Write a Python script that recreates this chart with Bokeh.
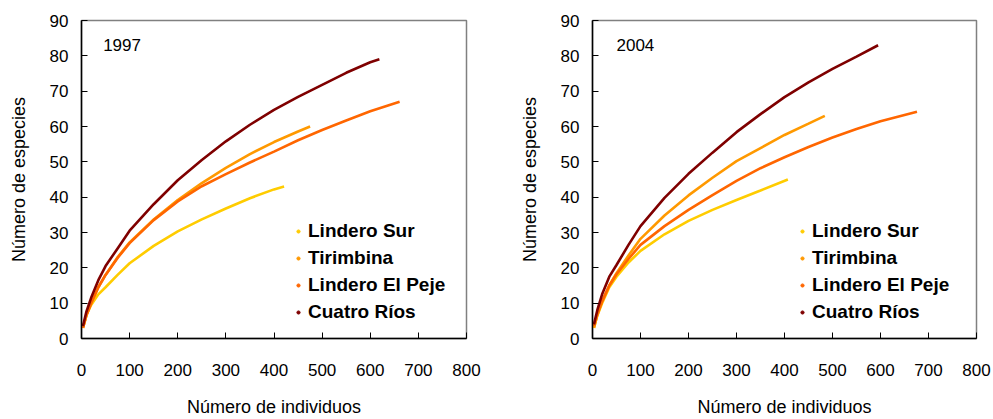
from bokeh.plotting import figure
from bokeh.models import Range1d, FixedTicker, Legend, LegendItem, Label
from bokeh.layouts import row
from bokeh.embed import file_html
from bokeh.resources import INLINE

SERIES = ["Lindero Sur", "Tirimbina", "Lindero El Peje", "Cuatro Ríos"]
COLORS = ["#FFCC00", "#FF9900", "#FF6600", "#7F0000"]
X_TICKS = [0, 100, 200, 300, 400, 500, 600, 700, 800]
Y_TICKS = [0, 10, 20, 30, 40, 50, 60, 70, 80, 90]

# ---- 1997 ----
x_sur_97 = [3, 10, 20, 35, 50, 75, 100, 150, 200, 250, 300, 350, 400, 421]
y_sur_97 = [3, 6.5, 9.5, 12.5, 14.5, 18, 21.3, 26.2, 30.3, 33.7, 36.8, 39.7, 42.2, 43]
x_tir_97 = [3, 10, 20, 35, 50, 75, 100, 150, 200, 250, 300, 350, 400, 450, 475]
y_tir_97 = [3, 6.5, 10, 14.5, 18, 23, 27.2, 33.7, 39.2, 44, 48.3, 52.2, 55.6, 58.6, 60]
x_pej_97 = [3, 10, 20, 35, 50, 75, 100, 150, 200, 250, 300, 350, 400, 450, 500, 550, 600, 661]
y_pej_97 = [3, 6.5, 10, 14.5, 18, 22.8, 27, 33.5, 38.8, 43.1, 46.5, 49.8, 52.9, 56.1, 59.0, 61.7, 64.3, 67]
x_cua_97 = [3, 10, 20, 35, 50, 75, 100, 150, 200, 250, 300, 350, 400, 450, 500, 550, 600, 619]
y_cua_97 = [3.5, 7.5, 11.5, 16.5, 20.5, 25.5, 30.5, 38, 44.8, 50.5, 55.8, 60.5, 64.7, 68.4, 71.8, 75.2, 78.2, 79]

# ---- 2004 ----
x_sur_04 = [3, 10, 20, 35, 50, 75, 100, 150, 200, 250, 300, 350, 407]
y_sur_04 = [3, 6.5, 10, 14.5, 17.5, 21.5, 24.8, 29.5, 33.3, 36.4, 39.2, 41.9, 45]
x_tir_04 = [3, 10, 20, 35, 50, 75, 100, 150, 200, 250, 300, 350, 400, 450, 484]
y_tir_04 = [3, 6.5, 10.5, 15, 18.5, 23.5, 28.2, 34.8, 40.5, 45.5, 50.2, 53.9, 57.6, 60.8, 63]
x_pej_04 = [3, 10, 20, 35, 50, 75, 100, 150, 200, 250, 300, 350, 400, 450, 500, 550, 600, 676]
y_pej_04 = [3.5, 7, 10.5, 15, 18.2, 22.5, 26.5, 31.8, 36.4, 40.6, 44.6, 48.2, 51.3, 54.2, 56.9, 59.3, 61.5, 64.2]
x_cua_04 = [3, 10, 20, 35, 50, 75, 100, 150, 200, 250, 300, 350, 400, 450, 500, 550, 595]
y_cua_04 = [4, 8, 12.5, 17.5, 20.8, 26.5, 31.8, 39.8, 46.6, 52.6, 58.4, 63.5, 68.3, 72.5, 76.3, 79.8, 83]

PANELS = [
    ("1997", [(x_sur_97, y_sur_97), (x_tir_97, y_tir_97), (x_pej_97, y_pej_97), (x_cua_97, y_cua_97)]),
    ("2004", [(x_sur_04, y_sur_04), (x_tir_04, y_tir_04), (x_pej_04, y_pej_04), (x_cua_04, y_cua_04)]),
]

FONT = "Liberation Sans"
NAN = float("nan")


def make_panel(year, series, width, left, right, year_x, leg_x):
    p = figure(width=width, height=419, output_backend="svg", toolbar_location=None,
               x_range=Range1d(0, 800), y_range=Range1d(0, 90),
               min_border_left=left, min_border_right=right,
               min_border_top=20, min_border_bottom=79)
    p.grid.visible = False
    p.outline_line_color = "#808080"
    p.outline_line_width = 1.5
    p.background_fill_color = "white"
    p.border_fill_color = "white"

    p.xaxis.ticker = FixedTicker(ticks=X_TICKS)
    p.yaxis.ticker = FixedTicker(ticks=Y_TICKS)
    for ax in (p.xaxis[0], p.yaxis[0]):
        ax.axis_line_color = "black"
        ax.axis_line_width = 1.5
        ax.major_tick_in = 6
        ax.major_tick_out = 0
        ax.major_tick_line_color = "black"
        ax.major_tick_line_width = 1
        ax.minor_tick_line_color = None
        ax.major_label_text_font = FONT
        ax.major_label_text_font_size = "17px"
        ax.major_label_text_color = "black"
        ax.axis_label_text_font = FONT
        ax.axis_label_text_font_size = "18px"
        ax.axis_label_text_font_style = "normal"
        ax.axis_label_text_color = "black"
    p.xaxis.axis_label = "Número de individuos"
    p.yaxis.axis_label = "Número de especies"
    p.xaxis.major_label_standoff = 25
    p.xaxis.axis_label_standoff = 18
    p.yaxis.major_label_standoff = 13
    p.yaxis.axis_label_standoff = 18

    for (xs, ys), col in zip(series, COLORS):
        p.line(xs, ys, line_color=col, line_width=2.6)

    items = []
    for name, col in zip(SERIES, COLORS):
        r = p.scatter(x=[NAN], y=[NAN], size=4.5, fill_color=col, line_color=col, marker="circle")
        items.append(LegendItem(label=name, renderers=[r]))
    leg = Legend(items=items, location=(leg_x, 15),
                 label_text_font=FONT, label_text_font_style="bold",
                 label_text_font_size="19px", label_text_color="black",
                 glyph_width=8, glyph_height=20, label_height=20,
                 label_standoff=6, spacing=5, padding=0, margin=0,
                 border_line_alpha=0, background_fill_alpha=0)
    p.add_layout(leg)

    p.add_layout(Label(x=year_x, y=83, text=year, text_font=FONT, text_font_size="17px",
                       text_baseline="middle", text_align="left", text_color="black"))
    return p


p1 = make_panel(PANELS[0][0], PANELS[0][1], 501, 81, 35, 45, 213)
p2 = make_panel(PANELS[1][0], PANELS[1][1], 492, 91, 17, 50, 206)

layout = row(p1, p2)
open("out.html", "w").write(file_html(layout, INLINE))
